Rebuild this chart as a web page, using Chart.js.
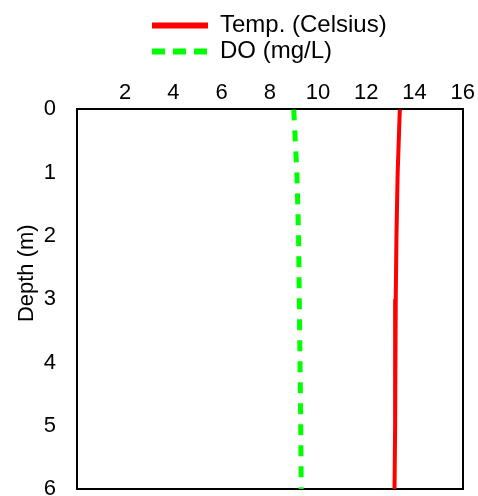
<!DOCTYPE html>
<html>
<head>
<meta charset="utf-8">
<script src="https://cdn.jsdelivr.net/npm/chart.js@4.4.1/dist/chart.umd.min.js"></script>
<style>
  html, body { margin: 0; padding: 0; background: #fff; overflow: hidden; }
  canvas { display: block; }
</style>
</head>
<body>
<canvas id="profileChart" width="478" height="496"></canvas>
<script>
// depth profile
const depths = [0, 1, 2, 3, 4, 5, 6];
const tempCelsius = [13.39, 13.3, 13.25, 13.22, 13.2, 13.19, 13.17];
const doMgL = [8.99, 9.12, 9.19, 9.22, 9.25, 9.28, 9.3];
const seriesNames = ['Temp. (Celsius)', 'DO (mg/L)'];

Chart.defaults.font.family = "'Liberation Sans', Arial, sans-serif";
Chart.defaults.color = '#000';

function toPoints(values) {
    return values.map((v, i) => ({ x: v, y: depths[i] }));
}

// legend left-aligned above the plot with stacked rows,
// and the depth title sits a bit above the middle of the axis
const layoutTweaks = {
    id: 'layoutTweaks',
    afterLayout(chart) {
        const lg = chart.legend;
        const w = lg.right - lg.left;
        lg.left = 150;
        lg.right = lg.left + w;
        lg.top -= 3.5;
        lg.bottom -= 3.5;
        chart.scales.yTitle.bottom -= 52;
    }
};

const frameBorder = { color: '#000', width: 2 };
const noGrid = { display: false, drawTicks: false };

let ctx = document.querySelector('#profileChart');

let graph = new Chart(ctx, {
    type: 'line',
    data: {
        datasets: [{
            label: seriesNames[0],
            data: toPoints(tempCelsius),
            borderColor: '#ff0000',
            backgroundColor: '#ff0000',
            borderWidth: 4,
            pointRadius: 0,
            tension: 0
        }, {
            label: seriesNames[1],
            data: toPoints(doMgL),
            borderColor: '#00ff00',
            backgroundColor: '#00ff00',
            borderWidth: 5,
            borderDash: [11, 10],
            pointRadius: 0,
            tension: 0
        }]
    },
    options: {
        responsive: false,
        animation: false,
        layout: {
            padding: { left: 10, right: 13, top: 15, bottom: 7 }
        },
        plugins: {
            tooltip: { enabled: false },
            legend: {
                position: 'top',
                align: 'start',
                fullSize: false,
                labels: {
                    usePointStyle: true,
                    pointStyle: 'line',
                    pointStyleWidth: 56,
                    boxWidth: 56,
                    padding: 2,
                    font: { size: 24 },
                    generateLabels: (chart) => Chart.defaults.plugins.legend.labels.generateLabels(chart).map((item, i) => ({
                        ...item,
                        strokeStyle: chart.data.datasets[i].borderColor,
                        lineWidth: 6,
                        lineDash: i === 1 ? [13, 8] : []
                    }))
                }
            }
        },
        scales: {
            x: {
                type: 'linear',
                position: 'top',
                min: 0,
                max: 16,
                ticks: {
                    stepSize: 2,
                    padding: 3,
                    font: { size: 22 },
                    callback: (v) => v === 0 ? '' : v
                },
                grid: noGrid,
                border: frameBorder
            },
            y: {
                type: 'linear',
                reverse: true,
                min: 0,
                max: 6,
                ticks: { stepSize: 1, padding: 21, font: { size: 22 } },
                grid: noGrid,
                border: frameBorder,
                afterFit: (scale) => {
                    scale.width = 35;
                    scale.paddingBottom = 0;
                }
            },
            // carries only the axis title
            yTitle: {
                type: 'linear',
                position: 'left',
                weight: 10,
                reverse: true,
                min: 0,
                max: 6,
                ticks: { display: false },
                grid: noGrid,
                border: { display: false },
                title: {
                    display: true,
                    text: 'Depth (m)',
                    font: { size: 22 },
                    padding: { top: 4, bottom: 2 }
                },
                afterFit: (scale) => { scale.width = 32; }
            },
            x2: {
                type: 'linear',
                position: 'bottom',
                min: 0,
                max: 16,
                ticks: { display: false },
                grid: noGrid,
                border: frameBorder
            },
            y2: {
                type: 'linear',
                position: 'right',
                reverse: true,
                min: 0,
                max: 6,
                ticks: { display: false },
                grid: noGrid,
                border: frameBorder
            }
        }
    },
    plugins: [layoutTweaks]
});
</script>
</body>
</html>
